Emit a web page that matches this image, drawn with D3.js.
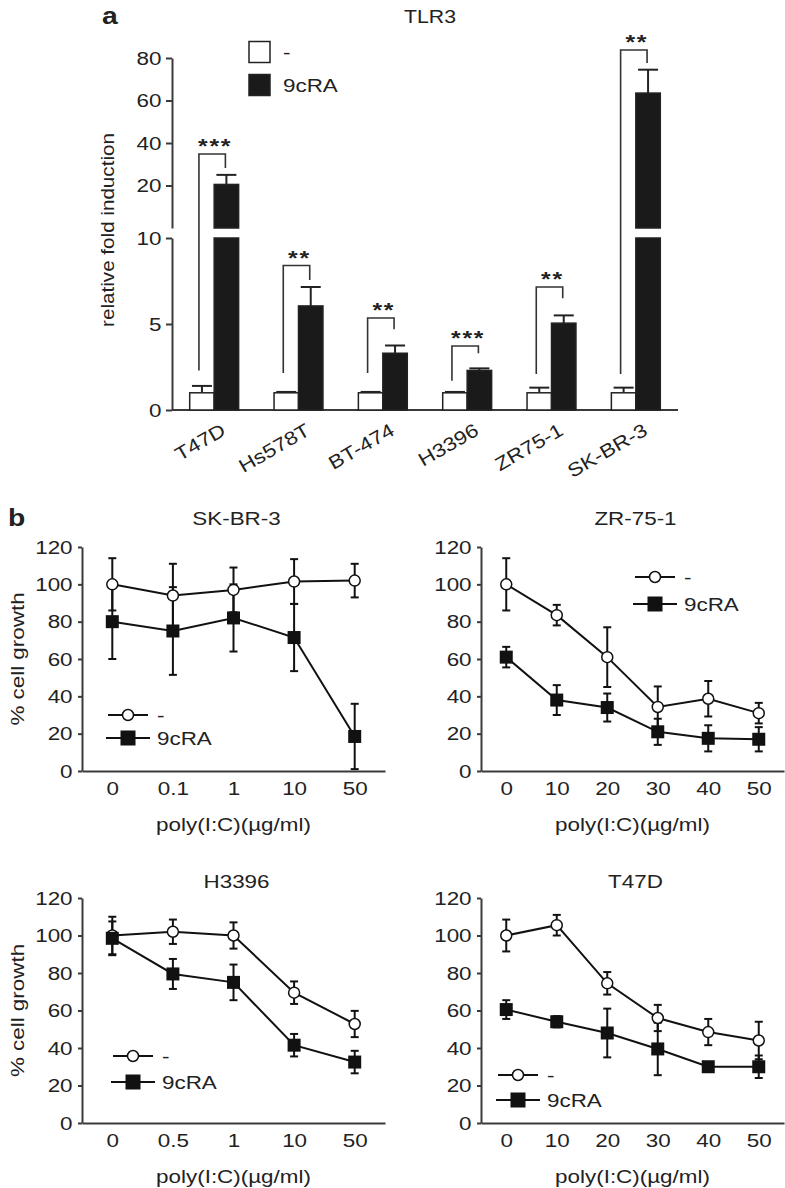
<!DOCTYPE html>
<html><head><meta charset="utf-8">
<script src="https://cdn.jsdelivr.net/npm/d3@7"></script>
<style>
body{margin:0;background:#fff;}
text{font-family:"Liberation Sans",Arial,Helvetica,sans-serif;fill:#222;}
</style></head><body>
<svg id="c" width="785" height="1188"></svg>
<script>
// ---------- Panel a data ----------
const cellLines = ["T47D","Hs578T","BT-474","H3396","ZR75-1","SK-BR-3"];
const ctrlFold = [1,1,1,1,1,1];
const ctrlFoldErr = [0.4,0.05,0.05,0.05,0.3,0.3];
const raFold = [20.5,6.05,3.3,2.3,5.05,63.5];
const raFoldErr = [4.5,1.1,0.45,0.12,0.45,11];
const sigLabels = ["***","**","**","***","**","**"];
const bracketTop = [34.8,8.4,5.35,3.72,7.15,83.8];
const bracketRightEnd = [28.2,7.56,4.7,3.3,6.5,77.6];
const bracketLeftEnd = [2.3,2.15,2.15,1.7,2.1,2.1];
const foldTicksLow = [0,5,10];
const foldTicksHigh = [20,40,60,80];
const seriesNames = ["-","9cRA"];

// ---------- Panel b data ----------
const growthTicks = [0,20,40,60,80,100,120];
const skbr3Doses = ["0","0.1","1","10","50"];
const skbr3Ctrl = [100,94,97,101.5,102];
const skbr3CtrlErr = [14,17,12,12,9];
const skbr3RA = [80,75,82,71.5,18.5];
const skbr3RAErr = [20,23.5,18,18,17.5];

const zr751Doses = ["0","10","20","30","40","50"];
const zr751Ctrl = [100,83.5,61,34.3,38.7,31];
const zr751CtrlErr = [14,5.5,16,11,9.5,5.5];
const zr751RA = [61,38,34,21,17.5,17];
const zr751RAErr = [5.5,8,7.5,7,7,6.5];

const h3396Doses = ["0","0.5","1","10","50"];
const h3396Ctrl = [100,102,100,69.5,52.8];
const h3396CtrlErr = [10,6.5,7,6,7];
const h3396RA = [98.5,79.5,75,41.5,32.5];
const h3396RAErr = [9,8,9.5,6,6];

const t47dDoses = ["0","10","20","30","40","50"];
const t47dCtrl = [100,105.5,74.5,56,48.5,44];
const t47dCtrlErr = [8.5,5.5,6,7,7,10];
const t47dRA = [60.5,54,48,39.5,30,30];
const t47dRAErr = [5,3,13,14,2.5,6];

// ---------- drawing ----------
const svg = d3.select("#c");
const SX = 1.18;
const AX = "#3a3a3a";
function label(g, x, y, s, o = {}) {
  return g.append("text")
    .attr("transform", `translate(${x},${y}) rotate(${o.rot||0}) scale(${SX},1)`)
    .attr("text-anchor", o.anchor || "middle")
    .attr("font-size", o.size || 19)
    .attr("font-weight", o.weight || "normal")
    .attr("dominant-baseline", o.baseline || "auto")
    .text(s);
}
function styleAxis(g) {
  g.attr("font-family", null).attr("font-size", null);
  g.select(".domain").attr("stroke", AX).attr("stroke-width", 2);
  g.selectAll(".tick line").attr("stroke", AX).attr("stroke-width", 2);
  g.selectAll(".tick text").attr("font-size", 19).attr("fill", "#222")
    .attr("transform", `scale(${SX},1)`);
}

// ===== Panel a =====
const gA = svg.append("g");
const xA = d3.scaleBand().domain(cellLines).range([172, 678]).paddingInner(0.42).paddingOuter(0.21);
const yLow = d3.scaleLinear().domain([0, 10]).range([410, 238]);
const yHigh = d3.scaleLinear().domain([0, 80]).range([228, 58]);
const yA = v => v <= 10 ? yLow(v) : yHigh(v);
const bw = xA.bandwidth() / 2;

label(gA, 102, 24, "a", {anchor: "start", size: 24, weight: "bold"});
label(gA, 430, 23, "TLR3", {size: 18});
label(gA, 108, 230, "relative fold induction", {rot: -90, baseline: "central", size: 17.5});

// axes
gA.append("g").attr("transform", "translate(172,0)")
  .call(d3.axisLeft(yHigh).tickValues(foldTicksHigh).tickSize(6).tickSizeOuter(0)).call(styleAxis);
gA.append("g").attr("transform", "translate(172,0)")
  .call(d3.axisLeft(yLow).tickValues(foldTicksLow).tickSize(6).tickSizeOuter(0)).call(styleAxis);
const xAxisA = gA.append("g").attr("transform", "translate(0,410)")
  .call(d3.axisBottom(xA).tickSize(0).tickSizeOuter(0)).call(styleAxis);
xAxisA.select(".domain").attr("d", "M172,0H678");
xAxisA.selectAll(".tick text")
  .attr("x", null).attr("y", null).attr("dy", null)
  .attr("text-anchor", "end").attr("dominant-baseline", "hanging")
  .attr("transform", `translate(6,12) rotate(-30) scale(${SX},1)`);

// bars
function drawBar(x, v, fill) {
  if (v <= 10) {
    gA.append("rect").attr("x", x).attr("y", yLow(v)).attr("width", bw).attr("height", yLow(0) - yLow(v))
      .attr("fill", fill).attr("stroke", "#222").attr("stroke-width", 1.5);
  } else {
    gA.append("rect").attr("x", x).attr("y", yLow(10)).attr("width", bw).attr("height", yLow(0) - yLow(10))
      .attr("fill", fill).attr("stroke", "#222").attr("stroke-width", 1.5);
    gA.append("rect").attr("x", x).attr("y", yHigh(v)).attr("width", bw).attr("height", yHigh(0) - yHigh(v))
      .attr("fill", fill).attr("stroke", "#222").attr("stroke-width", 1.5);
  }
}
function drawErrUp(cx, v, e) {
  gA.append("line").attr("x1", cx).attr("x2", cx).attr("y1", yA(v)).attr("y2", yA(v + e))
    .attr("stroke", "#222").attr("stroke-width", 2);
  gA.append("line").attr("x1", cx - 10).attr("x2", cx + 10).attr("y1", yA(v + e)).attr("y2", yA(v + e))
    .attr("stroke", "#222").attr("stroke-width", 2);
}
cellLines.forEach((c, i) => {
  const x0 = xA(c);
  drawErrUp(x0 + bw / 2, ctrlFold[i], ctrlFoldErr[i]);
  drawErrUp(x0 + bw * 1.5, raFold[i], raFoldErr[i]);
  drawBar(x0, ctrlFold[i], "#fff");
  drawBar(x0 + bw, raFold[i], "#1a1a1a");
  const lx = x0 + bw / 2 - 3, rx = x0 + bw * 1.5 - 1;
  gA.append("path")
    .attr("d", `M${lx},${yA(bracketLeftEnd[i])}V${yA(bracketTop[i])}H${rx}V${yA(bracketRightEnd[i])}`)
    .attr("fill", "none").attr("stroke", "#333").attr("stroke-width", 1.6);
  label(gA, x0 + bw + 1, yA(bracketTop[i]) - 1, sigLabels[i], {size: 21, weight: "bold"})
    .attr("letter-spacing", 1.5);
});

// legend a
[["#fff", 52], ["#1a1a1a", 85]].forEach(([f, cy], k) => {
  gA.append("rect").attr("x", 249).attr("y", cy - 10.5).attr("width", 21).attr("height", 21)
    .attr("fill", f).attr("stroke", "#222").attr("stroke-width", 1.5);
  label(gA, 283, cy, seriesNames[k], {anchor: "start", baseline: "central"});
});

// ===== Panel b =====
const panels = [
  {title: "SK-BR-3", doses: skbr3Doses, ctrl: skbr3Ctrl, ctrlErr: skbr3CtrlErr, ra: skbr3RA, raErr: skbr3RAErr,
   x: [82, 385], y: [771, 547], titleY: 518, ylab: true, leg: [128, 715, 23]},
  {title: "ZR-75-1", doses: zr751Doses, ctrl: zr751Ctrl, ctrlErr: zr751CtrlErr, ra: zr751RA, raErr: zr751RAErr,
   x: [481, 784], y: [771, 547], titleY: 518, ylab: false, leg: [655, 577, 27]},
  {title: "H3396", doses: h3396Doses, ctrl: h3396Ctrl, ctrlErr: h3396CtrlErr, ra: h3396RA, raErr: h3396RAErr,
   x: [82, 385], y: [1123, 898], titleY: 881, ylab: true, leg: [133, 1056, 26]},
  {title: "T47D", doses: t47dDoses, ctrl: t47dCtrl, ctrlErr: t47dCtrlErr, ra: t47dRA, raErr: t47dRAErr,
   x: [481, 784], y: [1123, 898], titleY: 881, ylab: false, leg: [518, 1075, 25]}
];
label(svg, 8, 518, "b", {anchor: "start", size: 24, weight: "bold", baseline: "central"});

panels.forEach(p => {
  const g = svg.append("g");
  const x = d3.scalePoint().domain(p.doses).range(p.x).padding(0.5);
  const y = d3.scaleLinear().domain([0, 120]).range(p.y);
  g.append("g").attr("transform", `translate(${p.x[0]},0)`)
    .call(d3.axisLeft(y).tickValues(growthTicks).tickSize(4).tickSizeOuter(0).tickPadding(4)).call(styleAxis);
  g.append("g").attr("transform", `translate(0,${p.y[0]})`)
    .call(d3.axisBottom(x).tickSize(0).tickSizeOuter(0).tickPadding(11)).call(styleAxis);
  label(g, (p.x[0] + p.x[1]) / 2 + 3, p.titleY, p.title, {baseline: "central"});
  label(g, (p.x[0] + p.x[1]) / 2, p.y[0] + 53, "poly(I:C)(\u00b5g/ml)", {baseline: "central"});
  if (p.ylab) label(g, 17, (p.y[0] + p.y[1]) / 2, "% cell growth", {rot: -90, baseline: "central"});

  const series = [
    {v: p.ctrl, e: p.ctrlErr},
    {v: p.ra, e: p.raErr}
  ];
  // error bars
  series.forEach(s => {
    p.doses.forEach((d, i) => {
      const cx = x(d), hi = y(s.v[i] + s.e[i]), lo = y(Math.max(0, s.v[i] - s.e[i]));
      g.append("line").attr("x1", cx).attr("x2", cx).attr("y1", hi).attr("y2", lo)
        .attr("stroke", "#111").attr("stroke-width", 2);
      [hi, lo].forEach(yy => g.append("line").attr("x1", cx - 4).attr("x2", cx + 4).attr("y1", yy).attr("y2", yy)
        .attr("stroke", "#111").attr("stroke-width", 2));
    });
  });
  const line = d3.line().x((v, i) => x(p.doses[i])).y(v => y(v));
  series.forEach(s => g.append("path").attr("d", line(s.v)).attr("fill", "none")
    .attr("stroke", "#111").attr("stroke-width", 2));
  g.selectAll(null).data(p.ctrl).join("circle")
    .attr("cx", (v, i) => x(p.doses[i])).attr("cy", v => y(v)).attr("r", 5.5)
    .attr("fill", "#fff").attr("stroke", "#111").attr("stroke-width", 1.5);
  g.selectAll(null).data(p.ra).join("rect")
    .attr("x", (v, i) => x(p.doses[i]) - 6.5).attr("y", v => y(v) - 6.5)
    .attr("width", 13).attr("height", 13).attr("fill", "#111");

  // legend
  const [lx, ly, dy] = p.leg;
  g.append("line").attr("x1", lx - 20).attr("x2", lx + 20).attr("y1", ly).attr("y2", ly).attr("stroke", "#111").attr("stroke-width", 2);
  g.append("circle").attr("cx", lx).attr("cy", ly).attr("r", 5.5).attr("fill", "#fff").attr("stroke", "#111").attr("stroke-width", 1.5);
  label(g, lx + 29, ly, seriesNames[0], {anchor: "start", baseline: "central"});
  g.append("line").attr("x1", lx - 22).attr("x2", lx + 22).attr("y1", ly + dy).attr("y2", ly + dy).attr("stroke", "#111").attr("stroke-width", 2);
  g.append("rect").attr("x", lx - 7.5).attr("y", ly + dy - 7.5).attr("width", 15).attr("height", 15).attr("fill", "#111");
  label(g, lx + 29, ly + dy, seriesNames[1], {anchor: "start", baseline: "central"});
});
</script>
</body></html>
